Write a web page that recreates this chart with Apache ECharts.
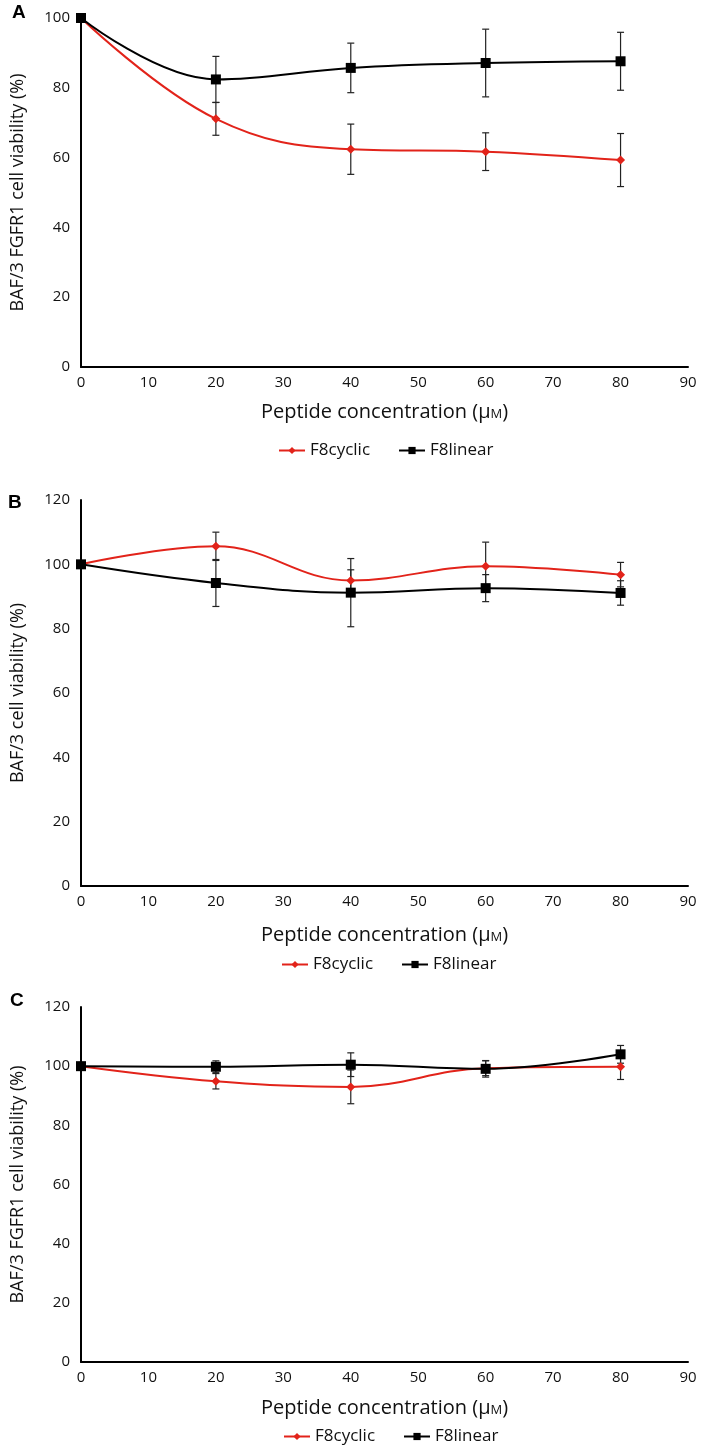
<!DOCTYPE html>
<html>
<head>
<meta charset="utf-8">
<script src="https://cdn.jsdelivr.net/npm/echarts@6/dist/echarts.min.js"></script>
<style>
  html, body { margin: 0; padding: 0; background: #fff; }
  #chart { width: 709px; height: 1448px; }
</style>
</head>
<body>
<div id="chart"></div>
<script>
// concentrations (µM)
const conc = [0, 20, 40, 60, 80];

// panel A: BAF/3 FGFR1
const aCyclic = [100, 71.1, 62.4, 61.7, 59.3];
const aCyclicErr = [0, 4.7, 7.2, 5.4, 7.6];
const aLinear = [100, 82.4, 85.7, 87.1, 87.6];
const aLinearErr = [0, 6.6, 7.1, 9.7, 8.3];

// panel B: BAF/3
const bCyclic = [100, 105.6, 95.0, 99.4, 96.8];
const bCyclicErr = [0, 4.4, 3.3, 7.5, 3.8];
const bLinear = [100, 94.2, 91.2, 92.6, 91.1];
const bLinearErr = [0, 7.3, 10.6, 4.2, 3.8];

// panel C: BAF/3 FGFR1
const cCyclic = [100, 94.9, 93.0, 99.3, 99.8];
const cCyclicErr = [0, 2.6, 5.7, 2.5, 4.3];
const cLinear = [100, 99.8, 100.5, 99.1, 104.0];
const cLinearErr = [0, 2.0, 4.0, 2.8, 3.0];

const RED = '#e2231a';
const BLACK = '#000';
const FONT = '"Open Sans", "Liberation Sans", sans-serif';

const chart = echarts.init(document.getElementById('chart'));

const grids = [
  { left: 81, right: 21, top: 18, height: 349 },
  { left: 81, right: 21, top: 500, height: 386 },
  { left: 81, right: 21, top: 1007, height: 355 }
];
const yMax = [100, 120, 120];
const yNames = ['BAF/3 FGFR1 cell viability (%)', 'BAF/3 cell viability (%)', 'BAF/3 FGFR1 cell viability (%)'];
const xNameGaps = [35, 39, 36];
const legendTops = [437, 951, 1423];
const legendLefts = [273, 276, 278];

const xTitle = '{a|Peptide concentration (µ}{b|M}{a|)}';

const xAxes = grids.map((g, i) => ({
  type: 'value', gridIndex: i, min: 0, max: 90, interval: 10,
  axisLine: { lineStyle: { color: BLACK, width: 2 } },
  axisTick: { show: false },
  splitLine: { show: false },
  axisLabel: { color: '#111', fontSize: 15, fontFamily: FONT, margin: 8 },
  name: xTitle, nameLocation: 'middle', nameGap: xNameGaps[i],
  nameTextStyle: {
    rich: {
      a: { fontSize: 20, fontFamily: FONT, color: '#111' },
      b: { fontSize: 13, fontFamily: FONT, color: '#111', padding: [4, 0, 0, 0] }
    }
  }
}));

const yAxes = grids.map((g, i) => ({
  type: 'value', gridIndex: i, min: 0, max: yMax[i], interval: 20,
  axisLine: { show: true, lineStyle: { color: BLACK, width: 2 } },
  axisTick: { show: false },
  splitLine: { show: false },
  axisLabel: { color: '#111', fontSize: 15, fontFamily: FONT, margin: 11 },
  name: yNames[i], nameLocation: 'middle', nameGap: 54, nameRotate: 90,
  nameTextStyle: { fontSize: 18, fontFamily: FONT, color: '#111' }
}));

function pairs(vals, errs) {
  return conc.map((c, k) => errs ? [c, vals[k], errs[k]] : [c, vals[k]]);
}

function errorSeries(i, vals, errs) {
  return {
    type: 'custom', xAxisIndex: i, yAxisIndex: i, z: 1,
    encode: { x: 0, y: 1 },
    data: pairs(vals, errs),
    renderItem: function (params, api) {
      const x = api.value(0), y = api.value(1), e = api.value(2);
      if (!e) return null;
      const t = api.coord([x, y + e]);
      const b = api.coord([x, y - e]);
      const w = 3.5;
      const st = { stroke: '#222', lineWidth: 1.2 };
      return {
        type: 'group',
        children: [
          { type: 'line', shape: { x1: t[0], y1: t[1], x2: b[0], y2: b[1] }, style: st },
          { type: 'line', shape: { x1: t[0] - w, y1: t[1], x2: t[0] + w, y2: t[1] }, style: st },
          { type: 'line', shape: { x1: b[0] - w, y1: b[1], x2: b[0] + w, y2: b[1] }, style: st }
        ]
      };
    }
  };
}

function lineSeries(i, name, vals, color, symbol, size) {
  return {
    type: 'line', name: name, xAxisIndex: i, yAxisIndex: i, z: 3,
    data: pairs(vals),
    smooth: 0.4,
    symbol: symbol, symbolSize: size,
    showAllSymbol: true,
    lineStyle: { color: color, width: 2 },
    itemStyle: { color: color, opacity: 1 },
    emphasis: { disabled: true }
  };
}

const panels = [
  [aCyclic, aCyclicErr, aLinear, aLinearErr],
  [bCyclic, bCyclicErr, bLinear, bLinearErr],
  [cCyclic, cCyclicErr, cLinear, cLinearErr]
];

const series = [];
panels.forEach((p, i) => {
  series.push(errorSeries(i, p[0], p[1]));
  series.push(errorSeries(i, p[2], p[3]));
  series.push(lineSeries(i, 'F8cyclic', p[0], RED, 'diamond', 9));
  series.push(lineSeries(i, 'F8linear', p[2], BLACK, 'rect', 10));
});

const legends = legendTops.map((t, i) => ({
  top: t, left: legendLefts[i], itemGap: 28, itemWidth: 26, itemHeight: 9,
  selectedMode: false,
  data: ['F8cyclic', 'F8linear'],
  textStyle: { fontSize: 17, fontFamily: FONT, color: '#111' }
}));

const panelLabels = [['A', 12, 3], ['B', 8, 493], ['C', 10, 991]].map(l => ({
  type: 'text', left: l[1], top: l[2],
  style: { text: l[0], font: 'bold 19px "Liberation Sans", Arial, sans-serif', fill: '#000' }
}));

chart.setOption({
  animation: false,
  backgroundColor: '#fff',
  grid: grids,
  xAxis: xAxes,
  yAxis: yAxes,
  legend: legends,
  graphic: panelLabels,
  series: series
});
</script>
</body>
</html>
